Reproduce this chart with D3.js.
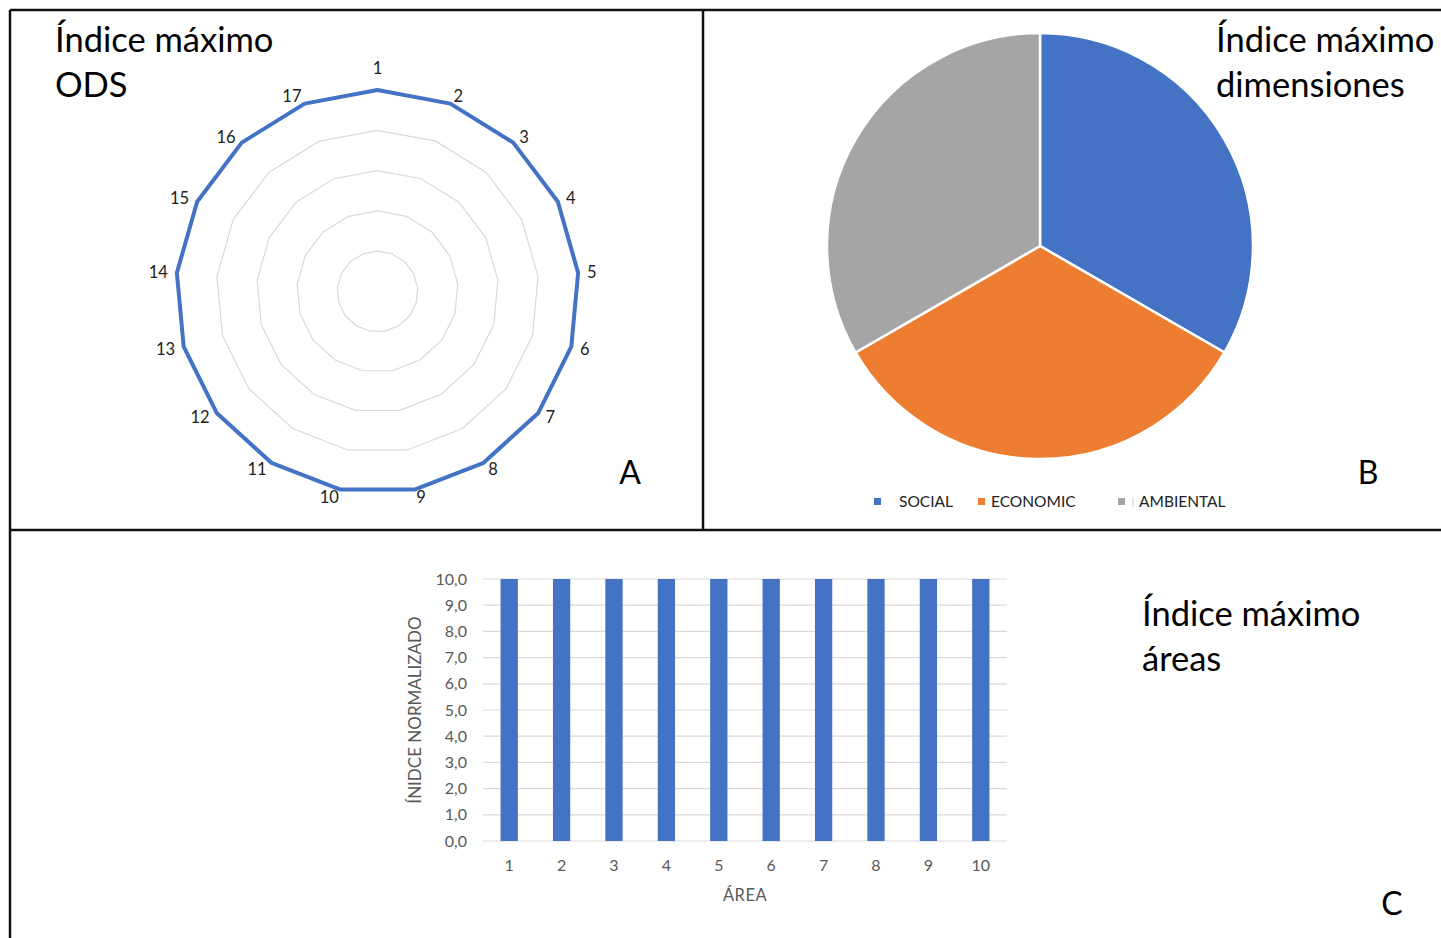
<!DOCTYPE html>
<html><head><meta charset="utf-8">
<script src="https://cdn.jsdelivr.net/npm/d3@7"></script>
<style>body{margin:0;background:#fff}svg{display:block}</style>
</head><body>
<svg id="c" width="1441" height="938"></svg>
<script>
// ---- data ----
const odsLabels = ["1","2","3","4","5","6","7","8","9","10","11","12","13","14","15","16","17"];
const odsValues = [10,10,10,10,10,10,10,10,10,10,10,10,10,10,10,10,10];
const dimCategories = ["SOCIAL","ECONOMIC","AMBIENTAL"];
const dimValues = [1,1,1];
const dimColors = ["#4472C4","#ED7D31","#A5A5A5"];
const areaCategories = ["1","2","3","4","5","6","7","8","9","10"];
const areaValues = [10,10,10,10,10,10,10,10,10,10];
const yTicks = [0,1,2,3,4,5,6,7,8,9,10];

const svg = d3.select("#c");
const font = "Lato, 'Open Sans', sans-serif";

// ---- panel borders ----
const borders = [[10,10,1441,10],[10,10,10,938],[703,10,703,530],[10,530,1441,530]];
svg.selectAll("line.border").data(borders).join("line")
  .attr("x1",d=>d[0]).attr("y1",d=>d[1]).attr("x2",d=>d[2]).attr("y2",d=>d[3])
  .attr("stroke","#111").attr("stroke-width",2.5);

function title(x,y,lines){
  const t = svg.append("text").attr("x",x).attr("y",y).attr("font-family",font)
    .attr("font-size",34.5).attr("fill","#000");
  lines.forEach((l,i)=>t.append("tspan").attr("x",x).attr("dy",i?45:0).text(l));
}
title(55,52,["Índice máximo","ODS"]);
title(1216,52,["Índice máximo","dimensiones"]);
title(1142,626,["Índice máximo","áreas"]);
[["A",630,484],["B",1368,484],["C",1392,915]].forEach(d=>{
  svg.append("text").attr("x",d[1]).attr("y",d[2]).attr("text-anchor","middle")
    .attr("font-family",font).attr("font-size",32).text(d[0]);
});

// ---- radar ----
const rc = {x:377.5,y:291.5};
const r = d3.scaleLinear().domain([0,10]).range([0,201.5]);
const n = odsLabels.length;
const ang = i => i*2*Math.PI/n;
const radar = svg.append("g").attr("transform",`translate(${rc.x},${rc.y})`);
[2,4,6,8,10].forEach(lv=>{
  const pts = odsLabels.map((_,i)=>[r(lv)*Math.sin(ang(i)), -r(lv)*Math.cos(ang(i))]);
  radar.append("polygon").attr("points",pts.map(p=>p.join(",")).join(" "))
    .attr("fill","none").attr("stroke","#d9d9d9").attr("stroke-width",1.2);
});
const dpts = odsValues.map((v,i)=>[r(v)*Math.sin(ang(i)), -r(v)*Math.cos(ang(i))]);
radar.append("polygon").attr("points",dpts.map(p=>p.join(",")).join(" "))
  .attr("fill","none").attr("stroke","#4472C4").attr("stroke-width",4).attr("stroke-linejoin","round");
radar.selectAll("text.lab").data(odsLabels).join("text")
  .each(function(d,i){
    const s = Math.sin(ang(i)), c = Math.cos(ang(i));
    const vx = r(10)*s, vy = -r(10)*c;
    const centered = Math.abs(s) < 0.01;
    d3.select(this)
      .attr("x", vx + 9*s)
      .attr("y", vy - 7.7*c - (centered ? 14*c : 0))
      .attr("text-anchor", centered ? "middle" : (s > 0 ? "start" : "end"));
  })
  .attr("dy","0.35em")
  .attr("font-family",font).attr("font-size",16.5).attr("fill","#222").text(d=>d);

// ---- pie ----
const pie = d3.pie().sort(null)(dimValues);
const arc = d3.arc().innerRadius(0).outerRadius(213);
svg.append("g").attr("transform","translate(1040,246)")
  .selectAll("path").data(pie).join("path")
  .attr("d",arc).attr("fill",(d,i)=>dimColors[i]).attr("stroke","#fff").attr("stroke-width",2.5);
const legX = [874, 978, 1118];
const leg = svg.append("g");
dimCategories.forEach((c,i)=>{
  leg.append("rect").attr("x",legX[i]).attr("y",498).attr("width",7).attr("height",7).attr("fill",dimColors[i]);
  leg.append("text").attr("x",legX[i]+(i===1?13:(i===0?25:21))).attr("y",507)
    .attr("font-family",font).attr("font-size",15.5).attr("fill","#222").text(c);
});
leg.append("line").attr("x1",1133).attr("x2",1133).attr("y1",497).attr("y2",507).attr("stroke","#ccc");

// ---- bars ----
const x = d3.scaleBand().domain(areaCategories).range([483,1007]).paddingInner(0.67).paddingOuter(0.335);
const y = d3.scaleLinear().domain([0,10]).range([841,579]);
const bars = svg.append("g");
bars.selectAll("line.grid").data(yTicks).join("line")
  .attr("x1",483).attr("x2",1007).attr("y1",d=>y(d)).attr("y2",d=>y(d))
  .attr("stroke","#d9d9d9").attr("stroke-width",1.2);
bars.selectAll("rect").data(areaValues).join("rect")
  .attr("x",(d,i)=>x(areaCategories[i])).attr("width",x.bandwidth())
  .attr("y",d=>y(d)).attr("height",d=>y(0)-y(d)).attr("fill","#4472C4");
const fmt = d=>d3.format(".1f")(d).replace(".",",");
bars.selectAll("text.yt").data(yTicks).join("text")
  .attr("x",467).attr("y",d=>y(d)).attr("dy","0.35em").attr("text-anchor","end")
  .attr("font-family",font).attr("font-size",16).attr("fill","#595959").text(fmt);
bars.selectAll("text.xt").data(areaCategories).join("text")
  .attr("x",d=>x(d)+x.bandwidth()/2).attr("y",871).attr("text-anchor","middle")
  .attr("font-family",font).attr("font-size",16).attr("fill","#595959").text(d=>d);
bars.append("text").attr("x",745).attr("y",901).attr("text-anchor","middle")
  .attr("font-family",font).attr("font-size",16.5).attr("letter-spacing",0.5).attr("fill","#595959").text("ÁREA");
bars.append("text").attr("transform","translate(421,710) rotate(-90)").attr("text-anchor","middle")
  .attr("font-family",font).attr("font-size",17).attr("fill","#595959").text("ÍNIDCE NORMALIZADO");
</script>
</body></html>
